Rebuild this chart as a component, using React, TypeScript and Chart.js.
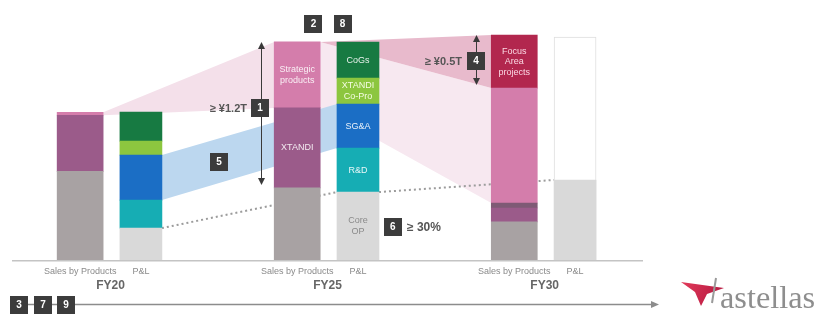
import { useEffect, useRef } from 'react';
import { Chart, registerables } from 'chart.js';

Chart.register(...registerables);

const W = 816;
const H = 319;
const FONT = '"Liberation Sans", Arial, sans-serif';

// ---- categories ----
const years = ['FY20', 'FY25', 'FY30'];
const barNames = ['Sales by Products', 'P&L'];

// ---- Sales by Products (¥bn, bottom → top) ----
const salesOther = [750, 610, 322];
const salesXtandi = [475, 677, 118];
const salesXtandiLate = [0, 0, 42];
const salesStrategic = [25, 558, 973];
const salesFocus = [0, 0, 448];

// ---- P&L (¥bn, bottom → top) ----
const plCoreOP = [270, 575, 677];
const plRnD = [237, 372, 0];
const plSGA = [381, 372, 0];
const plCoPro = [118, 220, 0];
const plCoGS = [245, 305, 0];
const plRevenueFrame = [0, 0, 1887];

// ---- callouts ----
const callouts = ['≥ ¥1.2T', '≥ ¥0.5T', '≥ 30%'];

// ---- layout (scale geometry) ----
const X_MIN = -0.5;
const X_MAX = 3.25;
const PAD_LEFT = 2;
const Y_MAX = 2200;
const AXIS_H = 59;
const SALES_OFF = -0.14;
const PL_OFF = 0.14;
const SALES_W = 46;
const PL_W = 42;
const UNIT_PX = (W - PAD_LEFT) / (X_MAX - X_MIN);
const SH = SALES_W / 2 / UNIT_PX;
const PH = PL_W / 2 / UNIT_PX;

type Seg = { label: string; values: number[]; color: string; text?: (string | string[] | null)[]; textColor?: string };

const salesSeries: Seg[] = [
  { label: 'Others', values: salesOther, color: '#a8a2a3' },
  { label: 'XTANDI', values: salesXtandi, color: '#9b5b8a', text: [null, 'XTANDI', null], textColor: 'rgba(255,255,255,0.88)' },
  { label: 'XTANDI (late)', values: salesXtandiLate, color: '#7f5a75' },
  { label: 'Strategic products', values: salesStrategic, color: '#d47dab', text: [null, ['Strategic', 'products'], null], textColor: 'rgba(255,255,255,0.88)' },
  { label: 'Focus Area projects', values: salesFocus, color: '#b2274e', text: [null, null, ['Focus', 'Area', 'projects']], textColor: 'rgba(255,225,235,0.95)' },
];

const plSeries: Seg[] = [
  { label: 'Core OP', values: plCoreOP, color: '#d9d9d9', text: [null, ['Core', 'OP'], null], textColor: '#8a8a8a' },
  { label: 'R&D', values: plRnD, color: '#16adb4', text: [null, 'R&D', null], textColor: 'rgba(255,255,255,0.9)' },
  { label: 'SG&A', values: plSGA, color: '#1b6ec5', text: [null, 'SG&A', null], textColor: 'rgba(255,255,255,0.9)' },
  { label: 'XTANDI Co-Pro', values: plCoPro, color: '#8cc63f', text: [null, ['XTANDI', 'Co-Pro'], null], textColor: 'rgba(250,255,235,0.95)' },
  { label: 'CoGs', values: plCoGS, color: '#177a42', text: [null, 'CoGs', null], textColor: 'rgba(255,255,255,0.9)' },
];

function ranges(series: Seg[]) {
  const base = years.map(() => 0);
  return series.map((s) =>
    s.values.map((v, i) => {
      const r = [base[i], base[i] + v];
      base[i] += v;
      return r;
    })
  );
}

const sR = ranges(salesSeries);
const pR = ranges(plSeries);

function barSets(series: Seg[], rs: number[][][], off: number, thick: number) {
  return series.map((s, k) => ({
    type: 'bar' as const,
    label: s.label,
    data: s.values
      .map((v, i) => (v > 0 ? { x: i + off, y: rs[k][i], text: s.text ? s.text[i] : null } : null))
      .filter(Boolean),
    backgroundColor: s.color,
    textColor: s.textColor,
    barThickness: thick,
    grouped: false,
    borderWidth: 0,
    order: 0,
  }));
}

function ribbon(top: { x: number; y: number }[], bottom: { x: number; y: number }[], color: string) {
  const common = { type: 'line' as const, borderWidth: 0, pointRadius: 0, tension: 0, order: 3 };
  return [
    { ...common, label: 'ribbon-top', data: top, fill: '+1', backgroundColor: color },
    { ...common, label: 'ribbon-bottom', data: bottom, fill: false },
  ];
}

const STRAT = 3;
const FOCUS = 4;
const SGA = 2;
const salesTotal = years.map((_, i) => sR[sR.length - 1][i][1]);

const ribbons = [
  // SG&A FY20 → FY25
  ...ribbon(
    [{ x: 0 + PL_OFF + PH, y: pR[SGA][0][1] }, { x: 1 + PL_OFF - PH, y: pR[SGA][1][1] }],
    [{ x: 0 + PL_OFF + PH, y: pR[SGA][0][0] }, { x: 1 + PL_OFF - PH, y: pR[SGA][1][0] }],
    '#bcd7ef'
  ),
  // Strategic FY20 → FY25
  ...ribbon(
    [{ x: 0 + SALES_OFF + SH, y: sR[STRAT][0][1] }, { x: 1 + SALES_OFF - SH, y: sR[STRAT][1][1] }],
    [{ x: 0 + SALES_OFF + SH, y: sR[STRAT][0][0] }, { x: 1 + SALES_OFF - SH, y: sR[STRAT][1][0] }],
    '#f4e0ea'
  ),
  // Focus area growth FY25 → FY30
  ...ribbon(
    [{ x: 1 + SALES_OFF + SH, y: salesTotal[1] }, { x: 2 + SALES_OFF - SH, y: sR[FOCUS][2][1] }],
    [{ x: 1 + SALES_OFF + SH, y: salesTotal[1] }, { x: 2 + SALES_OFF - SH, y: sR[FOCUS][2][0] }],
    '#e8bacc'
  ),
  // Strategic FY25 → FY30
  ...ribbon(
    [{ x: 1 + SALES_OFF + SH, y: sR[STRAT][1][1] }, { x: 2 + SALES_OFF - SH, y: sR[STRAT][2][1] }],
    [{ x: 1 + SALES_OFF + SH, y: sR[STRAT][1][0] }, { x: 2 + SALES_OFF - SH, y: sR[STRAT][2][0] }],
    '#f7e8f0'
  ),
];

const coreOPLine = {
  type: 'line' as const,
  label: 'Core OP trend',
  data: [
    { x: 0 + PL_OFF + PH, y: plCoreOP[0] },
    { x: 1 + PL_OFF - PH, y: plCoreOP[1] },
    { x: 1 + PL_OFF, y: null },
    { x: 1 + PL_OFF + PH, y: plCoreOP[1] },
    { x: 2 + PL_OFF - PH, y: plCoreOP[2] },
  ],
  borderColor: '#9c9c9c',
  borderWidth: 2,
  borderDash: [2, 3],
  pointRadius: 0,
  fill: false,
  spanGaps: false,
  order: 2,
};

const frameSet = {
  type: 'bar' as const,
  label: 'FY30 P&L',
  data: plRevenueFrame.map((v, i) => (v > 0 ? { x: i + PL_OFF, y: [0, v] } : null)).filter(Boolean),
  backgroundColor: '#ffffff',
  borderColor: '#dedede',
  borderWidth: 1,
  borderSkipped: false,
  barThickness: PL_W,
  grouped: false,
  order: 1,
};

type TickDef = { value: number; label: string | string[]; kind: 'bar' | 'fy' };
const tickDefs: TickDef[] = [];
years.forEach((fy, i) => {
  tickDefs.push({ value: i + SALES_OFF, label: barNames[0], kind: 'bar' });
  tickDefs.push({ value: i, label: ['', fy], kind: 'fy' });
  tickDefs.push({ value: i + PL_OFF, label: barNames[1], kind: 'bar' });
});
const findTick = (v: number) => tickDefs.find((d) => Math.abs(d.value - v) < 1e-6);

// badge anchors in data units (x: group units, y: ¥bn)
const badgesInPlot = [
  { t: '1', x: 0.689, y: sR[STRAT][1][0] },
  { t: '2', x: 0.935, y: 2000 },
  { t: '8', x: 1.069, y: 2000 },
  { t: '5', x: 0.5, y: 830 },
  { t: '4', x: 1.684, y: 1684 },
  { t: '6', x: 1.3, y: 279 },
];
const arrows = [
  { x: 0.693, from: salesTotal[1], to: salesOther[1] },
  { x: 1.684, from: salesTotal[2], to: sR[FOCUS][2][0] },
];

function badge(ctx: CanvasRenderingContext2D, cx: number, cy: number, t: string) {
  const w = 18;
  const h = 18;
  ctx.fillStyle = '#3c3c3c';
  ctx.fillRect(Math.round(cx - w / 2), Math.round(cy - h / 2), w, h);
  ctx.fillStyle = '#ffffff';
  ctx.font = `bold 10px ${FONT}`;
  ctx.textAlign = 'center';
  ctx.textBaseline = 'middle';
  ctx.fillText(t, cx, cy + 0.5);
  return { left: Math.round(cx - w / 2), right: Math.round(cx - w / 2) + w };
}

function vArrow(ctx: CanvasRenderingContext2D, x: number, y1: number, y2: number) {
  ctx.strokeStyle = '#3a3a3a';
  ctx.fillStyle = '#3a3a3a';
  ctx.lineWidth = 1;
  ctx.beginPath();
  ctx.moveTo(x, y1 + 4);
  ctx.lineTo(x, y2 - 4);
  ctx.stroke();
  ctx.beginPath();
  ctx.moveTo(x, y1);
  ctx.lineTo(x - 3.5, y1 + 7);
  ctx.lineTo(x + 3.5, y1 + 7);
  ctx.closePath();
  ctx.fill();
  ctx.beginPath();
  ctx.moveTo(x, y2);
  ctx.lineTo(x - 3.5, y2 - 7);
  ctx.lineTo(x + 3.5, y2 - 7);
  ctx.closePath();
  ctx.fill();
}

const overlay = {
  id: 'overlay',
  afterDatasetsDraw(chart: any) {
    const ctx: CanvasRenderingContext2D = chart.ctx;
    const xs = chart.scales.x;
    const ys = chart.scales.y;
    ctx.save();

    // baseline
    const by = ys.getPixelForValue(0);
    ctx.strokeStyle = '#c4c4c4';
    ctx.lineWidth = 1.5;
    ctx.beginPath();
    ctx.moveTo(12, by + 0.75);
    ctx.lineTo(643, by + 0.75);
    ctx.stroke();

    // segment texts
    chart.data.datasets.forEach((ds: any, i: number) => {
      if (ds.type !== 'bar') return;
      const meta = chart.getDatasetMeta(i);
      meta.data.forEach((el: any, j: number) => {
        const raw = ds.data[j];
        if (!raw || !raw.text) return;
        const lines = Array.isArray(raw.text) ? raw.text : [raw.text];
        const cy = (el.y + el.base) / 2;
        const lh = 10.5;
        ctx.fillStyle = ds.textColor || '#fff';
        ctx.font = `9px ${FONT}`;
        ctx.textAlign = 'center';
        ctx.textBaseline = 'middle';
        lines.forEach((l: string, k: number) => {
          ctx.fillText(l, el.x, cy + (k - (lines.length - 1) / 2) * lh);
        });
      });
    });

    // arrows
    arrows.forEach((a) => {
      vArrow(ctx, Math.round(xs.getPixelForValue(a.x)) + 0.5, ys.getPixelForValue(a.from), ys.getPixelForValue(a.to) - 3);
    });

    // badges & callouts
    const pos: Record<string, { left: number; right: number; cy: number }> = {};
    badgesInPlot.forEach((b) => {
      const cx = xs.getPixelForValue(b.x);
      const cy = ys.getPixelForValue(b.y);
      const r = badge(ctx, cx, cy, b.t);
      pos[b.t] = { ...r, cy };
    });
    ctx.fillStyle = '#555555';
    ctx.textBaseline = 'middle';
    ctx.font = `bold 11px ${FONT}`;
    ctx.textAlign = 'right';
    ctx.fillText(callouts[0], pos['1'].left - 4, pos['1'].cy + 1);
    ctx.fillText(callouts[1], pos['4'].left - 5, pos['4'].cy + 1);
    ctx.font = `bold 12px ${FONT}`;
    ctx.textAlign = 'left';
    ctx.fillText(callouts[2], pos['6'].right + 5, pos['6'].cy + 1);

    // timeline
    const ty = 304.5;
    ctx.strokeStyle = '#8c8c8c';
    ctx.lineWidth = 1.5;
    ctx.beginPath();
    ctx.moveTo(19, ty);
    ctx.lineTo(652, ty);
    ctx.stroke();
    ctx.fillStyle = '#8c8c8c';
    ctx.beginPath();
    ctx.moveTo(659, ty);
    ctx.lineTo(651, ty - 3.5);
    ctx.lineTo(651, ty + 3.5);
    ctx.closePath();
    ctx.fill();
    [
      ['3', 19],
      ['7', 43],
      ['9', 66],
    ].forEach(([t, x]) => badge(ctx, x as number, ty, t as string));

    // logo
    const g = ctx.createLinearGradient(681, 282, 724, 300);
    g.addColorStop(0, '#e23b5a');
    g.addColorStop(1, '#b3163f');
    ctx.fillStyle = g;
    ctx.beginPath();
    ctx.moveTo(681, 282);
    ctx.lineTo(724, 288);
    ctx.lineTo(707, 294);
    ctx.lineTo(701, 306);
    ctx.lineTo(695, 292);
    ctx.closePath();
    ctx.fill();
    ctx.strokeStyle = '#9a9a9a';
    ctx.lineWidth = 2;
    ctx.beginPath();
    ctx.moveTo(716, 278);
    ctx.lineTo(712, 303);
    ctx.stroke();
    ctx.font = `30px "Liberation Serif", "DejaVu Serif", serif`;
    const tw = ctx.measureText('astellas').width;
    const size = (30 * 95) / tw;
    ctx.font = `${size.toFixed(1)}px "Liberation Serif", "DejaVu Serif", serif`;
    ctx.fillStyle = '#8e8e8e';
    ctx.textAlign = 'left';
    ctx.textBaseline = 'alphabetic';
    ctx.fillText('astellas', 720, 308);

    ctx.restore();
  },
};

export default function App() {
  const ref = useRef<HTMLCanvasElement>(null);
  useEffect(() => {
    if (!ref.current) return;
    const chart = new Chart(ref.current, {
      type: 'bar',
      data: {
        datasets: [
          ...barSets(salesSeries, sR, SALES_OFF, SALES_W),
          ...barSets(plSeries, pR, PL_OFF, PL_W),
          frameSet,
          coreOPLine,
          ...ribbons,
        ] as any,
      },
      options: {
        animation: false,
        responsive: false,
        devicePixelRatio: 1,
        events: [],
        layout: { padding: { left: PAD_LEFT, right: 0, top: 0, bottom: 0 } },
        plugins: { legend: { display: false }, tooltip: { enabled: false } },
        scales: {
          x: {
            type: 'linear',
            min: X_MIN,
            max: X_MAX,
            offset: false,
            grid: { display: false, drawTicks: false },
            border: { display: false },
            afterBuildTicks: (axis: any) => {
              axis.ticks = tickDefs.map((d) => ({ value: d.value })).sort((a, b) => a.value - b.value);
            },
            afterFit: (axis: any) => {
              axis.height = AXIS_H;
            },
            ticks: {
              autoSkip: false,
              maxRotation: 0,
              minRotation: 0,
              padding: 6,
              callback: (v: any) => findTick(Number(v))?.label ?? '',
              font: (c: any) => {
                const t = c.tick ? findTick(c.tick.value) : undefined;
                return t && t.kind === 'fy'
                  ? { family: FONT, size: 12, weight: 'bold', lineHeight: 1.1 }
                  : { family: FONT, size: 9, lineHeight: 1.2 };
              },
              color: (c: any) => {
                const t = c.tick ? findTick(c.tick.value) : undefined;
                return t && t.kind === 'fy' ? '#666666' : '#8a8a8a';
              },
            },
          },
          y: { type: 'linear', min: 0, max: Y_MAX, display: false },
        },
      } as any,
      plugins: [overlay],
    });
    return () => chart.destroy();
  }, []);
  return (
    <div style={{ position: 'fixed', left: 0, top: 0, width: W, height: H, background: '#fff' }}>
      <canvas ref={ref} width={W} height={H} style={{ width: W, height: H, display: 'block' }} />
    </div>
  );
}
